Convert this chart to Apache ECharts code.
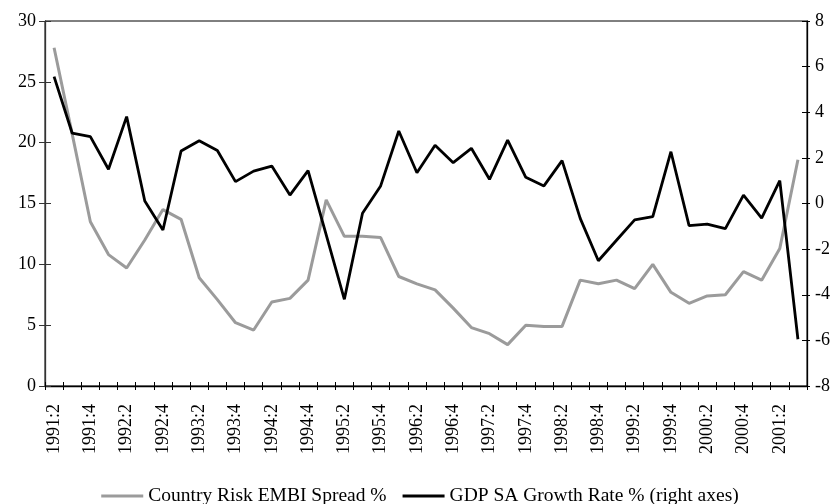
<!DOCTYPE html>
<html>
<head>
<meta charset="utf-8">
<script src="https://cdn.jsdelivr.net/npm/echarts@6/dist/echarts.min.js"></script>
<style>
html,body{margin:0;padding:0;background:#fff;}
#chart{width:840px;height:504px;}
</style>
</head>
<body>
<div id="chart"></div>
<script>
var categories = [
  '1991:2','1991:3','1991:4','1992:1','1992:2','1992:3','1992:4','1993:1','1993:2','1993:3',
  '1993:4','1994:1','1994:2','1994:3','1994:4','1995:1','1995:2','1995:3','1995:4','1996:1',
  '1996:2','1996:3','1996:4','1997:1','1997:2','1997:3','1997:4','1998:1','1998:2','1998:3',
  '1998:4','1999:1','1999:2','1999:3','1999:4','2000:1','2000:2','2000:3','2000:4','2001:1',
  '2001:2','2001:3'
];
var embiSpread = [
  27.8, 20.7, 13.5, 10.8, 9.7, 12.0, 14.5, 13.7, 8.9, 7.1,
  5.2, 4.6, 6.9, 7.2, 8.7, 15.3, 12.3, 12.3, 12.2, 9.0,
  8.4, 7.9, 6.4, 4.8, 4.3, 3.4, 5.0, 4.9, 4.9, 8.7,
  8.4, 8.7, 8.0, 10.0, 7.7, 6.8, 7.4, 7.5, 9.4, 8.7,
  11.3, 18.6
];
var gdpGrowth = [
  5.56, 3.08, 2.93, 1.50, 3.81, 0.11, -1.16, 2.30, 2.75, 2.32,
  0.96, 1.42, 1.64, 0.37, 1.44, -1.38, -4.20, -0.43, 0.77, 3.18,
  1.35, 2.55, 1.79, 2.42, 1.06, 2.78, 1.15, 0.77, 1.88, -0.65,
  -2.51, -1.61, -0.72, -0.58, 2.27, -0.97, -0.90, -1.10, 0.37, -0.64,
  1.00, -5.95
];
var seriesNames = ['Country Risk EMBI Spread %', 'GDP SA Growth Rate % (right axes)'];

var FONT = '"Liberation Serif", "DejaVu Serif", serif';
var chart = echarts.init(document.getElementById('chart'), null, {renderer: 'canvas'});
var axisLineStyle = {color: '#000', width: 1.3};
chart.setOption({
  animation: false,
  backgroundColor: '#fff',
  textStyle: {fontFamily: FONT, color: '#000'},
  grid: {left: 45, right: 33, top: 21, bottom: 118, show: true, borderColor: '#000', borderWidth: 1, backgroundColor: 'transparent'},
  legend: {
    data: [
      {name: seriesNames[0], icon: 'rect', itemStyle: {color: '#9b9b9b'}},
      {name: seriesNames[1], icon: 'rect', itemStyle: {color: '#000'}}
    ],
    left: 'center',
    top: 481,
    itemWidth: 42,
    itemHeight: 3,
    itemGap: 16,
    textStyle: {fontFamily: FONT, fontSize: 19.5, color: '#000'}
  },
  xAxis: [{
    type: 'category',
    data: categories,
    boundaryGap: true,
    position: 'bottom',
    axisLine: {show: true, onZero: false, lineStyle: axisLineStyle},
    axisTick: {show: true, interval: 0, length: 4, lineStyle: {color: '#000'}},
    axisLabel: {interval: 1, rotate: 90, margin: 18, fontFamily: FONT, fontSize: 18, color: '#000'},
    splitLine: {show: false}
  }, {
    type: 'category',
    data: categories,
    position: 'bottom',
    boundaryGap: true,
    axisLine: {show: false, onZero: false},
    axisTick: {show: true, inside: true, interval: 0, length: 4, lineStyle: {color: '#000'}},
    axisLabel: {show: false},
    splitLine: {show: false}
  }],
  yAxis: [{
    type: 'value', min: 0, max: 30, interval: 5, position: 'left',
    axisLine: {show: true, onZero: false, lineStyle: {color: '#333', width: 1.3}},
    axisTick: {show: true, length: 6, lineStyle: {color: '#333'}},
    axisLabel: {margin: 9, fontFamily: FONT, fontSize: 18, color: '#000'},
    splitLine: {show: false}
  }, {
    type: 'value', min: -8, max: 8, interval: 2, position: 'right',
    axisLine: {show: true, onZero: false, lineStyle: axisLineStyle},
    axisTick: {show: true, length: 3, lineStyle: {color: '#000'}},
    axisLabel: {margin: 8, fontFamily: FONT, fontSize: 18, color: '#000'},
    splitLine: {show: false}
  }, {
    type: 'value', min: 0, max: 30, interval: 5, position: 'left',
    axisLine: {show: false, onZero: false},
    axisTick: {show: true, inside: true, length: 6, lineStyle: {color: '#333'}},
    axisLabel: {show: false},
    splitLine: {show: false}
  }, {
    type: 'value', min: -8, max: 8, interval: 2, position: 'right',
    axisLine: {show: false, onZero: false},
    axisTick: {show: true, inside: true, length: 5, lineStyle: {color: '#000'}},
    axisLabel: {show: false},
    splitLine: {show: false}
  }],
  series: [{
    name: seriesNames[0],
    type: 'line',
    xAxisIndex: 0,
    yAxisIndex: 0,
    data: embiSpread,
    symbol: 'none',
    lineStyle: {color: '#9b9b9b', width: 3},
    itemStyle: {color: '#9b9b9b'},
    z: 2
  }, {
    name: seriesNames[1],
    type: 'line',
    xAxisIndex: 0,
    yAxisIndex: 1,
    data: gdpGrowth,
    symbol: 'none',
    lineStyle: {color: '#000', width: 2.8},
    itemStyle: {color: '#000'},
    z: 3
  }]
});
</script>
</body>
</html>
